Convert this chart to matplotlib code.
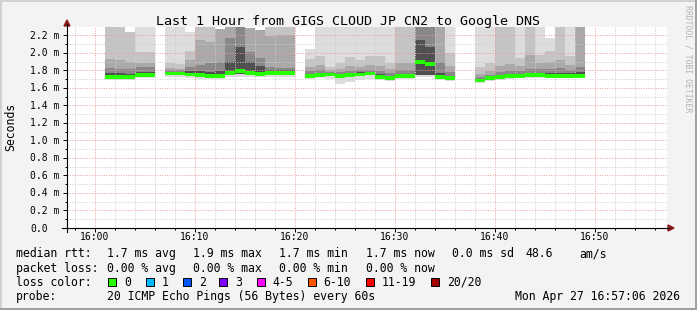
import matplotlib
matplotlib.use("Agg")
import matplotlib.pyplot as plt
from matplotlib import transforms
from matplotlib.patches import Polygon, Rectangle
from matplotlib.lines import Line2D

plt.rcParams['font.family'] = ['DejaVu Sans Mono']

# minute after 16:00 where each 1-minute step starts
minute = [1, 2, 3, 4, 5,
          7, 8, 9, 10, 11, 12, 13, 14, 15, 16, 17, 18, 19,
          21, 22, 23, 24, 25, 26, 27, 28, 29, 30, 31, 32, 33, 34, 35,
          38, 39, 40, 41, 42, 43, 44, 45, 46, 47, 48]

# median rtt (ms)
median = [1.73, 1.73, 1.725, 1.745, 1.745,
          1.765, 1.765, 1.755, 1.745, 1.74, 1.74, 1.775, 1.79, 1.77, 1.76, 1.77, 1.77, 1.77,
          1.735, 1.75, 1.755, 1.74, 1.745, 1.755, 1.765, 1.73, 1.715, 1.735, 1.735, 1.895, 1.87, 1.725, 1.71,
          1.685, 1.715, 1.725, 1.735, 1.74, 1.745, 1.745, 1.735, 1.735, 1.735, 1.74]

# smoke: upper edges, outer band -> inner band (values above 2.3 are cut off by the graph)
hi1 = [2.45, 2.45, 2.24, 2.45, 2.45,
       2.45, 2.45, 2.24, 2.45, 2.45, 2.27, 2.45, 2.45, 2.29, 2.26, 2.45, 2.45, 2.45,
       2.05, 2.45, 2.45, 2.45, 2.45, 2.45, 2.45, 2.45, 2.45, 2.45, 2.45, 2.45, 2.45, 2.45, 2.45,
       2.45, 2.45, 2.45, 2.45, 2.45, 2.45, 2.45, 2.17, 2.45, 2.45, 2.45]
hi2 = [2.45, 2.45, 2.24, 2.01, 2.01,
       1.89, 1.87, 2.02, 2.45, 2.45, 2.27, 2.45, 2.45, 2.29, 2.26, 2.45, 2.45, 2.45,
       1.93, 1.96, 1.84, 1.89, 1.95, 1.92, 1.97, 1.97, 1.89, 2.45, 2.45, 2.45, 2.45, 2.45, 2.0,
       1.84, 1.88, 2.45, 2.45, 1.94, 2.45, 1.98, 2.02, 2.45, 1.96, 2.45]
hi3 = [1.93, 1.92, 1.90, 1.89, 1.89,
       1.83, 1.82, 1.92, 2.15, 2.13, 2.27, 2.45, 2.45, 2.29, 2.26, 2.19, 2.20, 2.20,
       1.84, 1.86, 1.80, 1.82, 1.85, 1.84, 1.86, 1.85, 1.82, 1.88, 1.88, 2.45, 2.45, 2.45, 1.85,
       1.76, 1.79, 1.85, 1.87, 1.85, 1.98, 1.89, 1.90, 1.92, 1.86, 2.45]
hi4 = [1.83, 1.82, 1.82, 1.84, 1.84,
       1.80, 1.80, 1.84, 1.86, 1.88, 1.90, 2.17, 2.45, 2.01, 1.94, 1.84, 1.83, 1.83,
       1.79, 1.80, 1.78, 1.78, 1.79, 1.80, 1.80, 1.79, 1.77, 1.81, 1.81, 2.45, 2.45, 1.90, 1.78,
       1.72, 1.75, 1.78, 1.79, 1.79, 1.82, 1.82, 1.82, 1.83, 1.80, 1.84]
hi5 = [1.77, 1.77, 1.765, 1.78, 1.78,
       1.785, 1.785, 1.79, 1.79, 1.78, 1.79, 1.90, 2.07, 1.90, 1.85, 1.80, 1.80, 1.80,
       1.76, 1.77, 1.77, 1.76, 1.76, 1.78, 1.785, 1.76, 1.74, 1.76, 1.76, 2.15, 2.07, 1.77, 1.74,
       1.70, 1.73, 1.75, 1.76, 1.76, 1.77, 1.77, 1.77, 1.77, 1.77, 1.78]
# smoke: lower edges
lo2 = [1.71, 1.71, 1.705, 1.73, 1.73,
       1.745, 1.745, 1.735, 1.725, 1.72, 1.72, 1.755, 1.765, 1.75, 1.74, 1.75, 1.75, 1.75,
       1.715, 1.73, 1.735, 1.72, 1.725, 1.735, 1.745, 1.71, 1.70, 1.72, 1.72, 1.75, 1.75, 1.71, 1.695,
       1.675, 1.695, 1.71, 1.72, 1.725, 1.73, 1.73, 1.72, 1.72, 1.72, 1.725]
lo1 = [1.69, 1.69, 1.69, 1.71, 1.71,
       1.725, 1.725, 1.71, 1.70, 1.70, 1.70, 1.72, 1.73, 1.72, 1.72, 1.72, 1.72, 1.72,
       1.70, 1.71, 1.70, 1.65, 1.67, 1.69, 1.70, 1.69, 1.68, 1.70, 1.70, 1.72, 1.72, 1.69, 1.68,
       1.66, 1.68, 1.69, 1.70, 1.71, 1.71, 1.71, 1.71, 1.71, 1.71, 1.71]

smoke_colors = ['#DDDDDD', '#C4C4C4', '#A9A9A9', '#888888', '#505050']

xtick_min = [0, 10, 20, 30, 40, 50]
xtick_labels = ['16:00', '16:10', '16:20', '16:30', '16:40', '16:50']
ytick_val = [0.0, 0.2, 0.4, 0.6, 0.8, 1.0, 1.2, 1.4, 1.6, 1.8, 2.0, 2.2]
ytick_labels = ['0.0', '0.2 m', '0.4 m', '0.6 m', '0.8 m', '1.0 m', '1.2 m',
                '1.4 m', '1.6 m', '1.8 m', '2.0 m', '2.2 m']

loss_labels = ['0', '1', '2', '3', '4-5', '6-10', '11-19', '20/20']
loss_colors = ['#26ff00', '#00b8ff', '#0059ff', '#7e00ff', '#ff00ff', '#ff5500', '#ff0000', '#a10000']

W, H = 697, 310
def fx(x): return x / W
def fy(y): return 1 - y / H

fig = plt.figure(figsize=(6.97, 3.10), dpi=100, facecolor='#F3F3F3')

# frame
fig.add_artist(Rectangle((0, fy(2)), 1, 2 / H, transform=fig.transFigure, color='#D2D2D2', lw=0))
fig.add_artist(Rectangle((0, 0), 2 / W, 1, transform=fig.transFigure, color='#D2D2D2', lw=0))
fig.add_artist(Rectangle((0, 0), 1, 2 / H, transform=fig.transFigure, color='#A0A0A0', lw=0))
fig.add_artist(Rectangle((fx(695), 0), 2 / W, 1, transform=fig.transFigure, color='#A0A0A0', lw=0))

ax = fig.add_axes([fx(67), fy(228), 600 / W, 201 / H])
ax.set_facecolor('white')
ax.set_xlim(-2.8, 57.2)
ax.set_ylim(0, 2.297)

bands = [(lo1, hi1), (lo2, hi2), (lo2, hi3), (lo2, hi4), (lo2, hi5)]
for (lo, hi), c in zip(bands, smoke_colors):
    ax.bar(minute, [h - l for l, h in zip(lo, hi)], bottom=lo, width=1, align='edge',
           color=c, linewidth=0, zorder=1)
ax.bar(minute, 0.044, bottom=[m - 0.022 for m in median], width=1, align='edge',
       color='#26ff00', linewidth=0, zorder=3)

ax.set_xticks(xtick_min)
ax.set_xticks(range(-2, 58, 2), minor=True)
ax.set_yticks(ytick_val)
ax.set_yticks([i * 0.1 for i in range(23)], minor=True)
ax.set_axisbelow(False)
ax.grid(which='minor', color='#CDCDCD', ls=(0, (1, 1.5)), lw=0.7)
ax.grid(which='major', color='#F09A9A', ls=(0, (1, 1.5)), lw=0.7)
ax.tick_params(which='both', direction='out', color='black', width=0.7,
               labelleft=False, labelbottom=False)
ax.tick_params(which='major', length=3)
ax.tick_params(which='minor', length=1.5)
for s in ax.spines.values():
    s.set_visible(False)

# axes with arrows
fig.add_artist(Line2D([fx(62), fx(669)], [fy(228), fy(228)], color='black', lw=0.8,
                      transform=fig.transFigure))
fig.add_artist(Line2D([fx(67), fx(67)], [fy(232), fy(24)], color='black', lw=0.8,
                      transform=fig.transFigure))
fig.add_artist(Polygon([[fx(668), fy(225)], [fx(674), fy(228)], [fx(668), fy(231)]],
                       closed=True, color='#8B1A1A', transform=fig.transFigure))
fig.add_artist(Polygon([[fx(64), fy(26)], [fx(67), fy(20)], [fx(70), fy(26)]],
                       closed=True, color='#8B1A1A', transform=fig.transFigure))

# tick labels
xtr = transforms.blended_transform_factory(ax.transData, fig.transFigure)
for m, lab in zip(xtick_min, xtick_labels):
    fig.text(m, fy(240.5), lab, transform=xtr, ha='center', va='baseline', fontsize=7)
ytr = transforms.offset_copy(transforms.blended_transform_factory(fig.transFigure, ax.transData),
                             fig=fig, y=-3.5, units='dots')
for v, lab in zip(ytick_val, ytick_labels):
    fig.text(fx(30), v, lab, transform=ytr, ha='left', va='baseline', fontsize=7)

fig.text(fx(11), fy(127), 'Seconds', rotation=90, ha='center', va='center', fontsize=8.3)
fig.text(0.5, fy(24.5), 'Last 1 Hour from GIGS CLOUD JP CN2 to Google DNS',
         ha='center', va='baseline', fontsize=9.6)
fig.text(fx(688), fy(5), 'RRDTOOL / TOBI OETIKER', rotation=270, ha='center', va='top',
         fontsize=5.9, color='#B4B4B4')

# legend
fs = 8.3
row1 = [(16, 'median rtt:'), (107.3, '1.7 ms avg'), (193.3, '1.9 ms max'), (279.3, '1.7 ms min'),
        (365.7, '1.7 ms now'), (451.7, '0.0 ms sd'), (525, '48.6'), (579.3, 'am/s')]
row2 = [(16, 'packet loss:'), (107.3, '0.00 % avg'), (193.3, '0.00 % max'),
        (279.3, '0.00 % min'), (365.7, '0.00 % now')]
for x, t in row1:
    fig.text(fx(x), fy(257.3), t, ha='left', va='baseline', fontsize=fs)
for x, t in row2:
    fig.text(fx(x), fy(271.7), t, ha='left', va='baseline', fontsize=fs)

fig.text(fx(16), fy(285.5), 'loss color:', ha='left', va='baseline', fontsize=fs)
box_x = [108.3, 145.7, 182.7, 219.3, 256.7, 307.7, 365.7, 430.7]
for bx, lab, c in zip(box_x, loss_labels, loss_colors):
    fig.add_artist(Rectangle((fx(bx), fy(285.5)), 8 / W, 8 / H, transform=fig.transFigure,
                             facecolor=c, edgecolor='black', lw=0.7))
    fig.text(fx(bx + 16), fy(285.5), lab, ha='left', va='baseline', fontsize=fs)

fig.text(fx(16), fy(300), 'probe:', ha='left', va='baseline', fontsize=fs)
fig.text(fx(107.3), fy(300), '20 ICMP Echo Pings (56 Bytes) every 60s', ha='left',
         va='baseline', fontsize=fs)
fig.text(fx(680), fy(300), 'Mon Apr 27 16:57:06 2026', ha='right', va='baseline', fontsize=fs)

fig.savefig('out.png', dpi=100, facecolor=fig.get_facecolor())
